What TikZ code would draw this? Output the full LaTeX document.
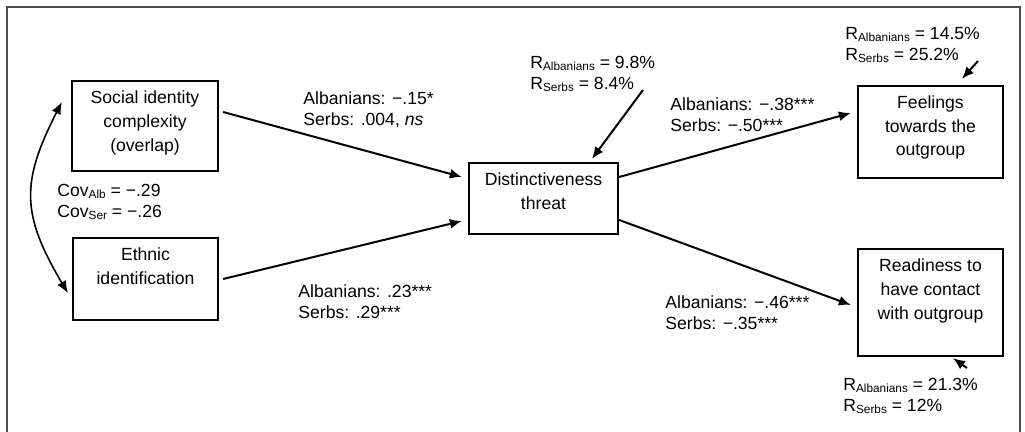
\documentclass[tikz,border=0pt]{standalone}
\usepackage{fontspec}
\setmainfont{Liberation Sans}
\usetikzlibrary{arrows.meta,calc}
\newcommand{\dsub}[1]{\raisebox{-0.8pt}{\fontsize{5.9}{6}\selectfont #1}}
\begin{document}
\begin{tikzpicture}[x=0.5pt,y=-0.5pt,
  box/.style={draw=black,line width=1.15pt,inner sep=0pt},
  boxtext/.style={anchor=north,align=center,inner sep=0pt,font=\fontsize{8.8}{11.8}\selectfont},
  lab/.style={anchor=west,align=left,inner sep=0pt,font=\fontsize{8.8}{10.6}\selectfont},
  arr/.style={line width=1pt,-{Latex[length=6pt,width=5pt]}},
  darr/.style={line width=0.8pt,{Latex[length=6pt,width=5pt]}-{Latex[length=6pt,width=5pt]}}]
\useasboundingbox (0,0) rectangle (1025,432);
\draw[line width=0.75pt,black!70] (7,440) -- (7,7) -- (1020,7) -- (1020,440);
% boxes
\node[box,minimum width=73pt,minimum height=45pt] (soc) at (145,126) {};
\node[box,minimum width=72.5pt,minimum height=41pt] (eth) at (145.5,279) {};
\node[box,minimum width=74.5pt,minimum height=35.5pt] (dist) at (543.5,198.5) {};
\node[box,minimum width=72.5pt,minimum height=46pt] (feel) at (930.5,132) {};
\node[box,minimum width=72.5pt,minimum height=53.5pt] (read) at (930.5,302.5) {};
% box texts
\node[boxtext] (soct) at ($(soc.north)+(0,11)$) {Social identity\\complexity\\(overlap)};
\node[boxtext] (etht) at ($(eth.north)+(0,10.5)$) {Ethnic\\identification};
\node[boxtext] (distt) at ($(dist.north)+(0,10.5)$) {Distinctiveness\\threat};
\node[boxtext] (feelt) at ($(feel.north)+(0,10.5)$) {Feelings\\towards the\\outgroup};
\node[boxtext] (readt) at ($(read.north)+(0,11)$) {Readiness to\\have contact\\with outgroup};
% path labels
\node[lab] (l1) at (303,110) {Albanians: −.15*\\Serbs: .004, \textit{ns}};
\node[lab] (l2) at (298,302) {Albanians: .23***\\Serbs: .29***};
\node[lab] (l3) at (670,115) {Albanians: −.38***\\Serbs: −.50***};
\node[lab] (l4) at (665,313) {Albanians: −.46***\\Serbs: −.35***};
\node[lab] (cov) at (57,202) {Cov\dsub{Alb} = −.29\\Cov\dsub{Ser} = −.26};
% R labels
\node[lab] (rd) at (530,74) {R\dsub{Albanians} = 9.8\%\\R\dsub{Serbs} = 8.4\%};
\node[lab] (rf) at (845,45) {R\dsub{Albanians} = 14.5\%\\R\dsub{Serbs} = 25.2\%};
\node[lab] (rr) at (843,396) {R\dsub{Albanians} = 21.3\%\\R\dsub{Serbs} = 12\%};
% connectors
\draw[arr] ($(soc.east)+(4,-14)$) -- ($(dist.west)+(-6,-21.5)$);
\draw[arr] ($(eth.east)+(4,0)$) -- ($(dist.west)+(-6,22.5)$);
\draw[arr] ($(dist.east)+(0,-21.5)$) -- ($(feel.west)+(-6,-19)$);
\draw[arr] ($(dist.east)+(0,21.5)$) -- ($(read.west)+(-6,2.5)$);
\coordinate (rds) at (643,90);
\coordinate (rfs) at (978,61);
\coordinate (rrs) at (967,368);
\draw[arr] (rds) -- ($(dist.north)+(48.5,-3)$);
\draw[arr] (rfs) -- ($(feel.north)+(31.5,-6)$);
\draw[arr] (rrs) -- ($(read.south)+(22.5,1)$);
\coordinate (covtop) at ($(soc.west)+(-9,-24)$);
\coordinate (covbot) at ($(eth.west)+(-4,14)$);
\draw[darr] (covtop) .. controls (21,182) and (21,214) .. (covbot);
\end{tikzpicture}
\end{document}
